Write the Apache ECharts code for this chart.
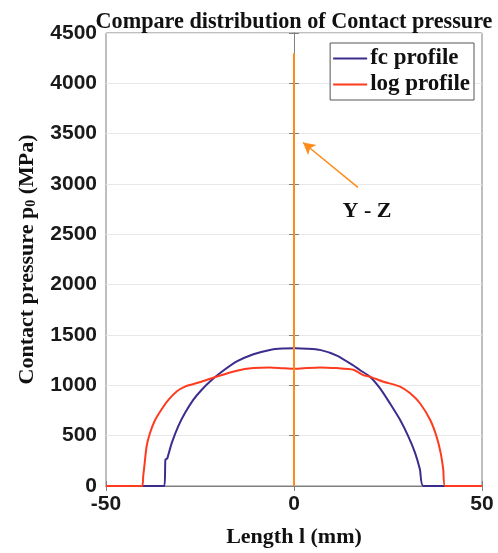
<!DOCTYPE html>
<html>
<head>
<meta charset="utf-8">
<script src="https://cdn.jsdelivr.net/npm/echarts@6/dist/echarts.min.js"></script>
<style>html,body{margin:0;padding:0;background:#fff}#c{width:498px;height:553px}</style>
</head>
<body>
<div id="c"></div>
<script>
var titleText = 'Compare distribution of Contact pressure';
var xName = 'Length l (mm)';
var xTicks = [-50, 0, 50];
var yTicks = [0, 500, 1000, 1500, 2000, 2500, 3000, 3500, 4000, 4500];

var fcX = [-50, -34.5, -34.2, -33.7, -33.5, -32.5, -30.8, -29.0, -26.8, -24.6, -21.9, -19.2, -15.2, -10.8, -6.4, -3.0, 0.3, 3.5, 6.9, 11.4, 15.8, 17.6, 20.2, 22.9, 25.5, 28.2, 30.4, 32.2, 33.5, 34.4, 50];
var fcY = [0, 0, 263, 275, 300, 428, 592, 724, 855, 954, 1053, 1135, 1237, 1309, 1352, 1365, 1368, 1364, 1352, 1296, 1197, 1150, 1086, 970, 822, 658, 493, 329, 164, 0, 0];

var logX = [-50, -40.4, -40.1, -39.8, -39.2, -38.3, -37.0, -35.2, -33.4, -31.2, -29.0, -24.6, -20.1, -15.2, -10.8, -6.4, -3.0, 0.3, 3.5, 6.9, 11.4, 15.8, 18.4, 20.2, 23.8, 28.2, 30.9, 33.5, 36.2, 37.9, 39.0, 39.7, 40.2, 50];
var logY = [0, 0, 100, 197, 395, 526, 651, 763, 855, 938, 987, 1036, 1092, 1145, 1171, 1178, 1170, 1164, 1172, 1178, 1171, 1155, 1102, 1086, 1036, 987, 921, 822, 658, 493, 329, 164, 0, 0];

var yzX = [0, 0];
var yzY = [0, 4300];

var arrowFrom = [17.0, 2967];
var arrowTo = [2.4, 3412];
var annText = 'Y - Z';
var annPos = [19.4, 2730];

function pairs(xs, ys) { return xs.map(function (x, i) { return [x, ys[i]]; }); }

var serif = '"Liberation Serif","Times New Roman",serif';
var sans = '"Liberation Sans",Arial,sans-serif';
var purple = '#3d2c8d';
var red = '#ff3b1f';
var orange = '#ff8c1a';

var chart = echarts.init(document.getElementById('c'));
chart.setOption({
  animation: false,
  backgroundColor: '#fff',
  title: {
    text: titleText, left: 289, top: 6, textAlign: 'center',
    textStyle: { fontFamily: serif, fontWeight: 'bold', fontSize: 22.2, color: '#111' }
  },
  legend: {
    data: ['fc profile', 'log profile'],
    orient: 'vertical', right: 24, top: 43,
    backgroundColor: '#fff', borderColor: '#555', borderWidth: 1,
    padding: [4, 4, 4, 3], itemGap: 3, itemWidth: 34, itemHeight: 2,
    icon: 'rect',
    textStyle: { fontFamily: serif, fontWeight: 'bold', fontSize: 23, color: '#111', padding: [0, 0, 0, -2] }
  },
  grid: { left: 106, right: 16, top: 33, bottom: 65, show: true, borderColor: '#7f7f7f', borderWidth: 1 },
  xAxis: [{
    type: 'value', min: -50, max: 50, interval: 50,
    name: xName, nameLocation: 'middle', nameGap: 40,
    nameTextStyle: { fontFamily: serif, fontWeight: 'bold', fontSize: 22, color: '#111' },
    axisLine: { lineStyle: { color: '#7f7f7f' } },
    axisTick: { inside: true, length: 5, lineStyle: { color: '#7f7f7f' } },
    axisLabel: { fontFamily: sans, fontWeight: 'bold', fontSize: 21, color: '#1a1a1a', margin: 8,
      formatter: function (v) { return xTicks.indexOf(v) >= 0 ? String(v) : ''; } },
    splitLine: { show: false }
  }, {
    type: 'value', position: 'top', min: -50, max: 50, interval: 50,
    axisLine: { show: true, lineStyle: { color: '#7f7f7f' } },
    axisTick: { inside: true, length: 5, lineStyle: { color: '#7f7f7f' } },
    axisLabel: { show: false }, splitLine: { show: false }
  }],
  yAxis: [{
    type: 'value', min: 0, max: 4500, interval: 500,
    name: '{a|Contact pressure p}{s|0}{a| (MPa)}', nameLocation: 'middle', nameGap: 68,
    nameTextStyle: {
      rich: {
        a: { fontFamily: serif, fontWeight: 'bold', fontSize: 22, color: '#111' },
        s: { fontFamily: serif, fontWeight: 'bold', fontSize: 14, color: '#111', verticalAlign: 'bottom', padding: [8, 0, 0, 0] }
      }
    },
    axisLine: { show: true, lineStyle: { color: '#7f7f7f' } },
    axisTick: { inside: true, length: 5, lineStyle: { color: '#7f7f7f' } },
    axisLabel: { fontFamily: sans, fontWeight: 'bold', fontSize: 21, color: '#1a1a1a', margin: 9,
      formatter: function (v) { return yTicks.indexOf(v) >= 0 ? String(v) : ''; } },
    splitLine: { show: true, lineStyle: { color: '#e8e8e8', width: 1 } }
  }, {
    type: 'value', position: 'right', min: 0, max: 4500, interval: 500,
    axisLine: { show: true, lineStyle: { color: '#7f7f7f' } },
    axisTick: { inside: true, length: 5, lineStyle: { color: '#7f7f7f' } },
    axisLabel: { show: false }, splitLine: { show: false }
  }],
  series: [{
    name: 'fc profile', type: 'line', data: pairs(fcX, fcY), smooth: 0.2,
    showSymbol: false, symbol: 'none', color: purple, lineStyle: { width: 2, color: purple }, z: 3
  }, {
    name: 'log profile', type: 'line', data: pairs(logX, logY), smooth: 0.2,
    showSymbol: false, symbol: 'none', color: red, lineStyle: { width: 2, color: red }, z: 4
  }, {
    name: 'Y-Z', type: 'line', data: pairs(yzX, yzY),
    showSymbol: false, symbol: 'none', lineStyle: { width: 2, color: orange }, z: 5,
    markLine: {
      silent: true, symbol: ['none', 'arrow'], symbolSize: [10, 12],
      lineStyle: { color: orange, width: 1.5, type: 'solid' },
      label: { show: false },
      data: [[{ coord: arrowFrom }, { coord: arrowTo }]]
    },
    markPoint: {
      symbol: 'circle', symbolSize: 0,
      label: { show: true, formatter: annText, fontFamily: serif, fontWeight: 'bold', fontSize: 22, color: '#111' },
      data: [{ coord: annPos }]
    }
  }]
});
</script>
</body>
</html>
